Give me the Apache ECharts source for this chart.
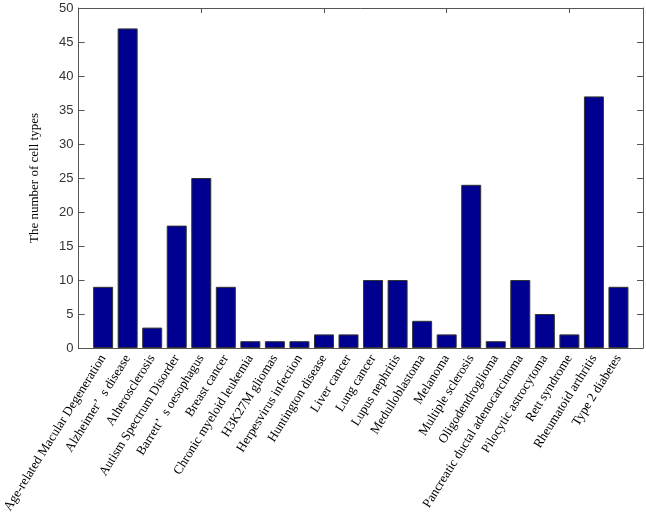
<!DOCTYPE html>
<html>
<head>
<meta charset="utf-8">
<script src="https://cdn.jsdelivr.net/npm/echarts@6/dist/echarts.min.js"></script>
<style>html,body{margin:0;padding:0;background:#fff}#c{width:646px;height:521px}</style>
</head>
<body>
<div id="c"></div>
<script>
var categories = ["Age-related Macular Degeneration", "Alzheimer’  s disease", "Atherosclerosis", "Autism Spectrum Disorder", "Barrett’  s oesophagus", "Breast cancer", "Chronic myeloid leukemia", "H3K27M gliomas", "Herpesvirus infection", "Huntington disease", "Liver cancer", "Lung cancer", "Lupus nephritis", "Medulloblastoma", "Melanoma", "Multiple sclerosis", "Oligodendroglioma", "Pancreatic ductal adenocarcinoma", "Pilocytic astrocytoma", "Rett syndrome", "Rheumatoid arthritis", "Type 2 diabetes"];
var values = [9, 47, 3, 18, 25, 9, 1, 1, 1, 2, 2, 10, 10, 4, 2, 24, 1, 10, 5, 2, 37, 9];
var yTicks = [0, 5, 10, 15, 20, 25, 30, 35, 40, 45, 50];

var cats = [''].concat(categories).concat(['']);
var vals = ['-'].concat(values).concat(['-']);

var chart = echarts.init(document.getElementById('c'));
var axisColor = '#555';
chart.setOption({
  animation: false,
  grid: {left: 70, right: 3, top: 8, bottom: 173},
  xAxis: [{
    type: 'category',
    data: cats,
    boundaryGap: false,
    position: 'bottom',
    axisLine: {onZero: false, lineStyle: {color: axisColor}},
    axisTick: {show: false},
    axisLabel: {
      interval: 0, rotate: 58, margin: 8,
      fontFamily: 'Liberation Serif', fontSize: 13, color: '#000'
    }
  }, {
    type: 'value', min: 0, max: 23, interval: 5,
    position: 'top',
    axisLine: {show: true, onZero: false, lineStyle: {color: axisColor}},
    axisTick: {show: true, inside: true, length: 5, lineStyle: {color: axisColor}},
    axisLabel: {show: false},
    splitLine: {show: false}
  }],
  yAxis: [{
    type: 'value', min: yTicks[0], max: yTicks[yTicks.length - 1], interval: 5,
    position: 'left',
    name: 'The number of cell types',
    nameLocation: 'middle', nameGap: 37,
    nameTextStyle: {fontFamily: 'Liberation Serif', fontSize: 13, color: '#000'},
    axisLine: {show: true, onZero: false, lineStyle: {color: axisColor}},
    axisTick: {show: true, inside: true, length: 6, lineStyle: {color: axisColor}},
    axisLabel: {fontFamily: 'Liberation Sans', fontSize: 13, color: '#333', margin: 5},
    splitLine: {show: false}
  }, {
    type: 'value', min: 0, max: 50, interval: 5,
    position: 'right',
    axisLine: {show: true, onZero: false, lineStyle: {color: axisColor}},
    axisTick: {show: true, inside: true, length: 6, lineStyle: {color: axisColor}},
    axisLabel: {show: false},
    splitLine: {show: false}
  }],
  series: [{
    type: 'bar',
    xAxisIndex: 0, yAxisIndex: 0,
    data: vals,
    barWidth: 20,
    itemStyle: {color: '#000090', borderColor: '#333', borderWidth: 1}
  }]
});
</script>
</body>
</html>
